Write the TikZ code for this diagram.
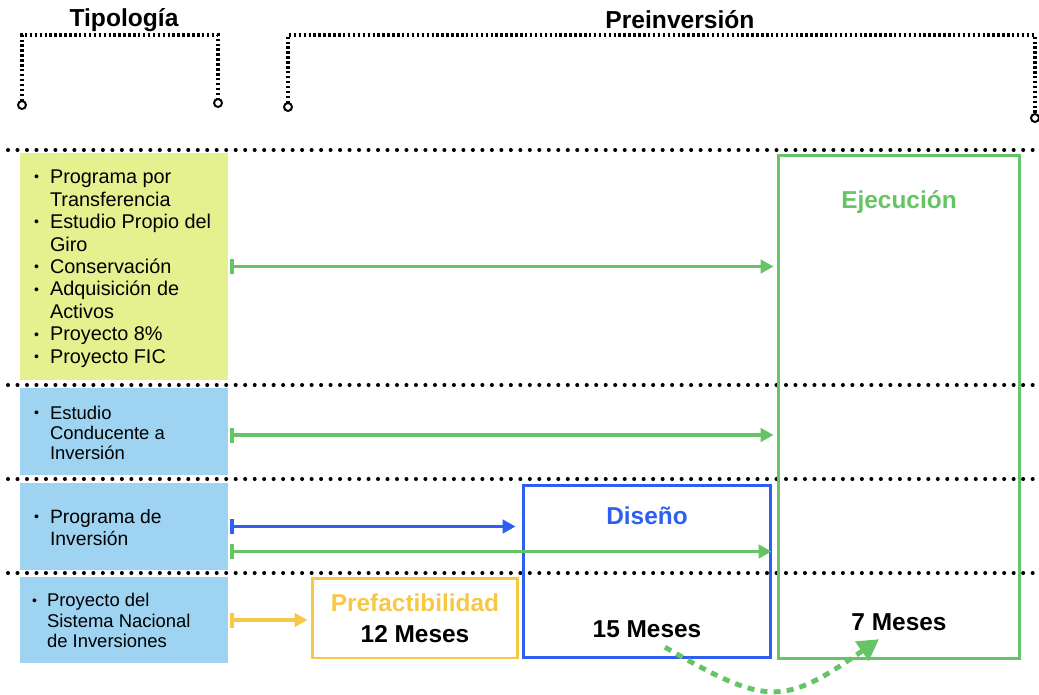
\documentclass[tikz,border=0pt]{standalone}
\usepackage{fontspec}
\setmainfont{Liberation Sans}
\usetikzlibrary{arrows.meta,positioning}

\definecolor{verde}{RGB}{102,196,102}
\definecolor{azul}{RGB}{45,95,240}
\definecolor{amarillo}{RGB}{246,200,70}
\definecolor{lima}{RGB}{229,240,143}
\definecolor{celeste}{RGB}{158,211,242}

\newcommand{\bul}{\raisebox{0.15ex}{\footnotesize\textbullet}}

\tikzset{
  titulo/.style={font=\bfseries\fontsize{14}{16}\selectfont},
  sep/.style={line width=2.3pt, dash pattern=on 0pt off 5.4pt, line cap=round},
  llave/.style={line width=2pt, dash pattern=on 1.4pt off 1.4pt},
  ojo/.style={line width=1.1pt, fill=white},
  tipo/.style={minimum width=4.16cm, inner sep=0pt},
  lista/.style={anchor=west, inner sep=0pt},
  fase/.style={draw, line width=1.7pt, inner sep=0pt},
  etiqueta/.style={font=\bfseries\fontsize{13.9}{17.6}\selectfont},
  flecha/.style={line width=2.1pt, {Bar[width=0.3cm]}-{Triangle[length=0.26cm,width=0.27cm]}, shorten <=0.04cm}
}

\begin{document}
\begin{tikzpicture}[x=0.02cm, y=-0.02cm]
    \useasboundingbox (0,0) rectangle (1039,694);

    \node[titulo] (tip) at (124,20) {Tipología};
    \node[titulo] (prein) at (680,20) {Preinversión};

    \draw[llave] (22,101) -- (22,35) -- (218,35) -- (218,99);
    \draw[ojo] (22,105) circle (0.08cm);
    \draw[ojo] (218,103) circle (0.08cm);
    \draw[llave] (288,103) -- (288,35) -- (1035,35) -- (1035,114);
    \draw[ojo] (288,107) circle (0.08cm);
    \draw[ojo] (1035,118) circle (0.08cm);

    \foreach \y in {150,385,479,573}
        \draw[sep] (8,\y) -- (1039,\y);

    \node[tipo, fill=lima, minimum height=4.54cm] (t1) at (124,266.5) {};
    \node[tipo, fill=celeste, minimum height=1.74cm] (t2) at (124,431.5) {};
    \node[tipo, fill=celeste, minimum height=1.74cm] (t3) at (124,526.5) {};
    \node[tipo, fill=celeste, minimum height=1.72cm] (t4) at (124,620) {};

    \node[lista, font=\fontsize{11.3}{12.8}\selectfont] (l1) at ([xshift=0.28cm,yshift=-0.05cm]t1.west) {%
        \begin{tabular}{@{}p{0.32cm}@{}l@{}}
        \bul & Programa por\\ & Transferencia\\
        \bul & Estudio Propio del\\ & Giro\\
        \bul & Conservación\\
        \bul & Adquisición de\\ & Activos\\
        \bul & Proyecto 8\%\\
        \bul & Proyecto FIC
        \end{tabular}};
    \node[lista, font=\fontsize{10.5}{11.6}\selectfont] (l2) at ([xshift=0.28cm,yshift=-0.08cm]t2.west) {%
        \begin{tabular}{@{}p{0.32cm}@{}l@{}}
        \bul & Estudio\\ & Conducente a\\ & Inversión
        \end{tabular}};
    \node[lista, font=\fontsize{11}{12.6}\selectfont] (l3) at ([xshift=0.28cm,yshift=-0.07cm]t3.west) {%
        \begin{tabular}{@{}p{0.32cm}@{}l@{}}
        \bul & Programa de\\ & Inversión
        \end{tabular}};
    \node[lista, font=\fontsize{10.5}{11.6}\selectfont] (l4) at ([xshift=0.24cm,yshift=-0.06cm]t4.west) {%
        \begin{tabular}{@{}p{0.3cm}@{}l@{}}
        \bul & Proyecto del\\ & Sistema Nacional\\ & de Inversiones
        \end{tabular}};

    \node[fase, draw=verde, minimum width=4.84cm, minimum height=10.08cm] (ejec) at (899,407) {};
    \node[fase, draw=azul, minimum width=4.96cm, minimum height=3.46cm] (dis) at (647,571.5) {};
    \node[fase, draw=amarillo, minimum width=4.12cm, minimum height=1.6cm, etiqueta, align=center] (pre) at (415,618)
        {\textcolor{amarillo}{Prefactibilidad}\\12 Meses};

    \node[etiqueta, text=verde] (ejecl) at ([yshift=-0.98cm]ejec.north) {Ejecución};
    \node[etiqueta] (m7) at ([yshift=0.76cm]ejec.south) {7 Meses};
    \node[etiqueta, text=azul] (disl) at ([yshift=-0.64cm]dis.north) {Diseño};
    \node[etiqueta] (m15) at ([yshift=0.6cm]dis.south) {15 Meses};

    \draw[flecha, verde, shorten >=0.06cm] (t1.east) -- (t1.east -| ejec.west);
    \draw[flecha, verde, shorten >=0.06cm] ([yshift=-0.07cm]t2.east) -- ([yshift=-0.07cm]t2.east -| ejec.west);
    \draw[flecha, azul, shorten >=0.12cm] (t3.east) -- (t3.east -| dis.west);
    \draw[flecha, verde, shorten >=0.1cm] ([yshift=-0.5cm]t3.east) -- ([yshift=-0.5cm]t3.east -| ejec.west);
    \draw[flecha, amarillo, shorten >=0.06cm] (t4.east) -- (t4.east -| pre.west);

    \draw[verde, line width=2.8pt, dash pattern=on 4pt off 3.5pt, -{Triangle[length=0.42cm,width=0.45cm]}]
        ([xshift=0.36cm,yshift=-0.06cm]m15.south) to[out=-30, in=-145, looseness=1.4] ([xshift=-0.4cm,yshift=-0.04cm]m7.south);
\end{tikzpicture}
\end{document}
